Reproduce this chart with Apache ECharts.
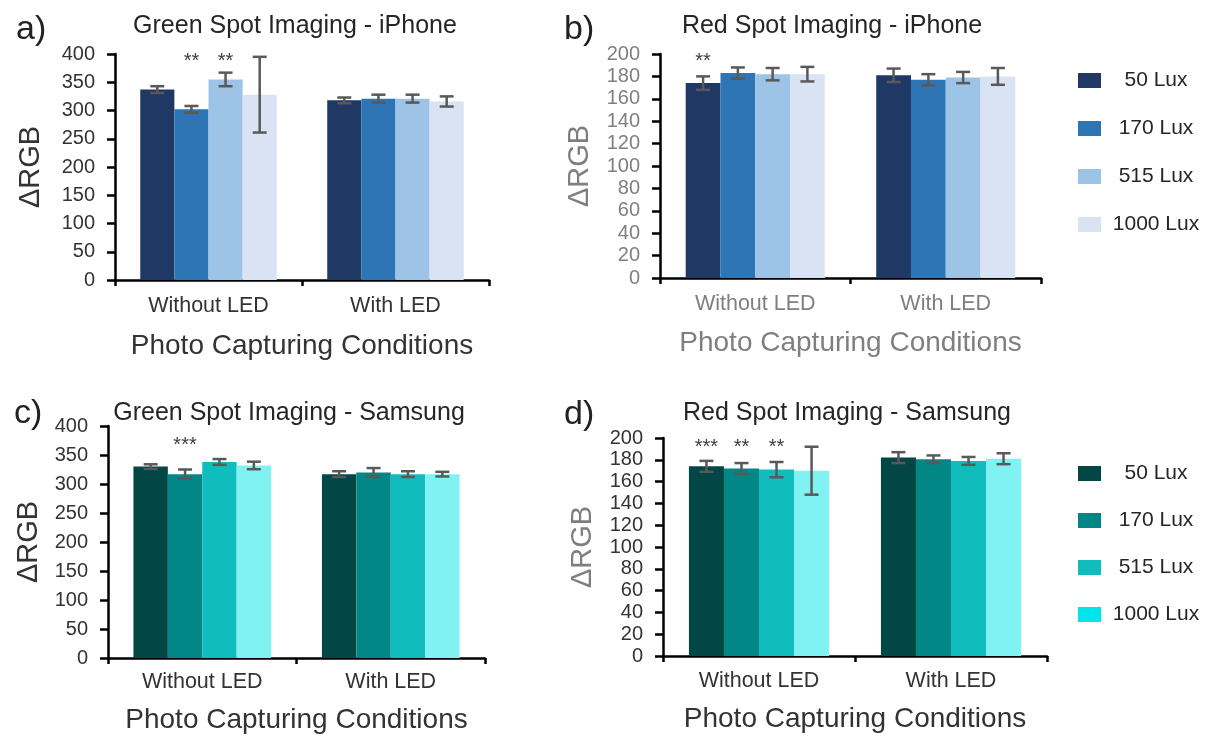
<!DOCTYPE html>
<html>
<head>
<meta charset="utf-8">
<script src="https://cdn.jsdelivr.net/npm/echarts@6/dist/echarts.min.js"></script>
<style>
  html, body { margin: 0; padding: 0; background: #ffffff; }
  #chart { width: 1209px; height: 736px; }
</style>
</head>
<body>
<div id="chart"></div>
<script>
// ---- data ----
const categories = ['Without LED', 'With LED'];
const luxLevels = ['50 Lux', '170 Lux', '515 Lux', '1000 Lux'];

// ΔRGB means, one row per lux level: [Without LED, With LED]
const greenIphoneMean = [[337, 318], [302, 321], [355, 321], [328, 316]];
const greenIphoneErr  = [[6, 5], [6, 7], [12, 7], [67, 9]];
const greenIphoneSig  = [['', ''], ['**', ''], ['**', ''], ['', '']];

const redIphoneMean = [[174, 181], [183, 177], [182, 179], [182, 180]];
const redIphoneErr  = [[6, 6], [5, 5], [5.5, 5], [6.5, 7.5]];
const redIphoneSig  = [['**', ''], ['', ''], ['', ''], ['', '']];

const greenSamsungMean = [[330, 317], [317, 320], [338, 317], [332, 317]];
const greenSamsungErr  = [[4, 5], [8, 7.5], [5, 5], [6.5, 4]];
const greenSamsungSig  = [['', ''], ['***', ''], ['', ''], ['', '']];

const redSamsungMean = [[174, 182], [172, 180.5], [171, 179], [170, 181]];
const redSamsungErr  = [[5, 5], [5, 3.5], [7, 3.6], [22, 5]];
const redSamsungSig  = [['***', ''], ['**', ''], ['**', ''], ['', '']];

const greenTicks = { max: 400, step: 50 };
const redTicks = { max: 200, step: 20 };

// ---- styling ----
const FONT = '"Liberation Sans", Arial, sans-serif';
const DARK = '#333333';
const GREY = '#7f7f7f';
const ERR_COLOR = '#595959';
const iphoneColors = ['#203864', '#2e75b6', '#9dc3e6', '#dae3f3'];
const samsungColors = ['#024646', '#038686', '#10bcbc', '#80f2f2'];
const samsungLegendColors = ['#024646', '#038686', '#10bcbc', '#00e6e8'];
const GAP = 0.27;

const panels = [
  { letter: 'a)', title: 'Green Spot Imaging - iPhone', mean: greenIphoneMean, err: greenIphoneErr, sig: greenIphoneSig,
    ticks: greenTicks, colors: iphoneColors, grid: { left: 115, top: 54, width: 374, height: 226 },
    letterPos: [11, 8], titlePos: [290, 9], starFrac: 0.985,
    yNameGap: 70, xLabelMargin: 15, xNameGap: 52,
    tickColor: DARK, catColor: DARK, xNameColor: DARK, yNameColor: DARK },
  { letter: 'b)', title: 'Red Spot Imaging - iPhone', mean: redIphoneMean, err: redIphoneErr, sig: redIphoneSig,
    ticks: redTicks, colors: iphoneColors, grid: { left: 660, top: 54, width: 381, height: 224 },
    letterPos: [559, 8], titlePos: [827, 9], starFrac: 0.985,
    yNameGap: 66, xLabelMargin: 15, xNameGap: 51,
    tickColor: GREY, catColor: GREY, xNameColor: GREY, yNameColor: GREY },
  { letter: 'c)', title: 'Green Spot Imaging - Samsung', mean: greenSamsungMean, err: greenSamsungErr, sig: greenSamsungSig,
    ticks: greenTicks, colors: samsungColors, grid: { left: 108, top: 426, width: 377, height: 232 },
    letterPos: [9, 392], titlePos: [284, 396], starFrac: 0.935,
    yNameGap: 65, xLabelMargin: 13, xNameGap: 48,
    tickColor: DARK, catColor: DARK, xNameColor: DARK, yNameColor: DARK },
  { letter: 'd)', title: 'Red Spot Imaging - Samsung', mean: redSamsungMean, err: redSamsungErr, sig: redSamsungSig,
    ticks: redTicks, colors: samsungColors, grid: { left: 663, top: 438, width: 384, height: 218 },
    letterPos: [559, 393], titlePos: [842, 396], starFrac: 0.975,
    yNameGap: 66, xLabelMargin: 14, xNameGap: 49,
    tickColor: DARK, catColor: DARK, xNameColor: DARK, yNameColor: GREY }
];

const option = {
  backgroundColor: '#ffffff',
  animation: false,
  textStyle: { fontFamily: FONT },
  title: [], grid: [], xAxis: [], yAxis: [], series: [],
  legend: []
};

panels.forEach((p, k) => {
  option.title.push({
    text: p.letter, left: p.letterPos[0], top: p.letterPos[1],
    textStyle: { fontFamily: FONT, fontSize: 34, fontWeight: 'normal', color: '#222222' }
  });
  option.title.push({
    text: p.title, left: p.titlePos[0], top: p.titlePos[1], textAlign: 'center',
    textStyle: { fontFamily: FONT, fontSize: 25, fontWeight: 'normal', color: '#262626' }
  });
  option.grid.push(Object.assign({ containLabel: false }, p.grid));
  option.xAxis.push({
    type: 'category', gridIndex: k, data: categories,
    name: 'Photo Capturing Conditions', nameLocation: 'middle', nameGap: p.xNameGap,
    nameTextStyle: { fontFamily: FONT, fontSize: 28, color: p.xNameColor },
    axisLine: { lineStyle: { color: '#000000', width: 2.5 } },
    axisTick: { show: true, length: 6, lineStyle: { color: '#000000', width: 2.5 } },
    axisLabel: { margin: p.xLabelMargin, fontFamily: FONT, fontSize: 21.5, color: p.catColor },
    splitLine: { show: false }
  });
  option.yAxis.push({
    type: 'value', gridIndex: k, min: 0, max: p.ticks.max, interval: p.ticks.step,
    name: 'ΔRGB', nameLocation: 'middle', nameGap: p.yNameGap,
    nameTextStyle: { fontFamily: FONT, fontSize: 29, color: p.yNameColor },
    axisLine: { show: true, lineStyle: { color: '#000000', width: 2.5 } },
    axisTick: { show: true, length: 8, lineStyle: { color: '#000000', width: 2.5 } },
    axisLabel: { margin: 20, fontFamily: FONT, fontSize: 20, color: p.tickColor },
    splitLine: { show: false }
  });

  luxLevels.forEach((lux, i) => {
    option.series.push({
      name: lux, type: 'bar', xAxisIndex: k, yAxisIndex: k,
      barGap: 0, barCategoryGap: (GAP * 100) + '%',
      itemStyle: { color: p.colors[i] },
      data: p.mean[i]
    });
    // error bars and significance marks for this lux level
    option.series.push({
      type: 'custom', xAxisIndex: k, yAxisIndex: k, z: 5, silent: true,
      data: categories.map((c, j) => [j, p.mean[i][j] - p.err[i][j], p.mean[i][j] + p.err[i][j]]),
      encode: { x: 0, y: [1, 2] },
      renderItem: (params, api) => {
        const j = api.value(0);
        const lo = api.coord([j, api.value(1)]);
        const hi = api.coord([j, api.value(2)]);
        const band = api.size([1, 0])[0];
        const groupW = band * (1 - GAP);
        const bw = groupW / luxLevels.length;
        const x = lo[0] - groupW / 2 + bw * (i + 0.5);
        const cap = 7;
        const st = { stroke: ERR_COLOR, lineWidth: 2.5 };
        const children = [
          { type: 'line', shape: { x1: x, y1: lo[1], x2: x, y2: hi[1] }, style: st },
          { type: 'line', shape: { x1: x - cap, y1: lo[1], x2: x + cap, y2: lo[1] }, style: st },
          { type: 'line', shape: { x1: x - cap, y1: hi[1], x2: x + cap, y2: hi[1] }, style: st }
        ];
        const mark = p.sig[i][params.dataIndex];
        if (mark) {
          const sy = api.coord([j, p.ticks.max * p.starFrac])[1];
          children.push({
            type: 'text',
            style: { text: mark, x: x, y: sy + 4, align: 'center', verticalAlign: 'middle',
                     fontFamily: FONT, fontSize: 20, fill: '#404040' }
          });
        }
        return { type: 'group', children };
      }
    });
  });
});

function legendFor(top, colors, gap) {
  return {
    orient: 'vertical', left: 1073, top: top, icon: 'rect',
    itemWidth: 23, itemHeight: 15, itemGap: gap, selectedMode: false,
    data: luxLevels.map((n, i) => ({ name: n, itemStyle: { color: colors[i] } })),
    formatter: '{t|{name}}',
    textStyle: {
      fontFamily: FONT,
      rich: { t: { width: 100, align: 'center', fontSize: 21, lineHeight: 24, color: '#262626', fontFamily: FONT } }
    }
  };
}
option.legend.push(legendFor(65, iphoneColors, 27));
option.legend.push(legendFor(458, samsungLegendColors, 26));

const chart = echarts.init(document.getElementById('chart'), null, { renderer: 'canvas' });
chart.setOption(option);
</script>
</body>
</html>
